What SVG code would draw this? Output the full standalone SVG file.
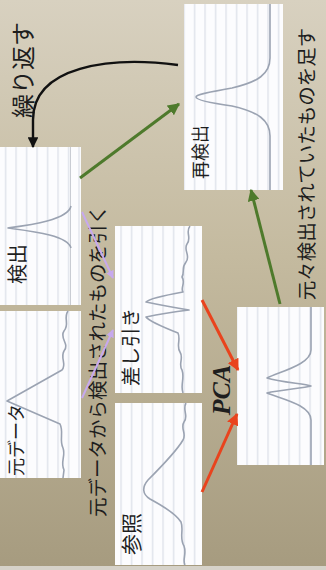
<svg xmlns="http://www.w3.org/2000/svg" width="326" height="570" viewBox="0 0 326 570">
<defs>
<linearGradient id="bg" x1="0" y1="0" x2="0" y2="1">
<stop offset="0" stop-color="#d8d1c0"/>
<stop offset="0.45" stop-color="#c4ba9f"/>
<stop offset="1" stop-color="#a69b7f"/>
</linearGradient>
<pattern id="stripes" width="10.5" height="10" patternUnits="userSpaceOnUse">
<rect width="10.5" height="10" fill="#fcfcfe"/>
<rect x="5" width="1.2" height="10" fill="#dadee7"/>
</pattern>
<marker id="mk-black" viewBox="0 0 10 10" refX="9" refY="5" markerWidth="4.5" markerHeight="4.5" orient="auto" markerUnits="strokeWidth"><path d="M0,0 L10,5 L0,10 z" fill="#111"/></marker>
<marker id="mk-green" viewBox="0 0 10 10" refX="9" refY="5" markerWidth="4" markerHeight="4" orient="auto" markerUnits="strokeWidth"><path d="M0,0 L10,5 L0,10 z" fill="#4e7a2c"/></marker>
<marker id="mk-red" viewBox="0 0 10 10" refX="9" refY="5" markerWidth="4" markerHeight="4" orient="auto" markerUnits="strokeWidth"><path d="M0,0 L10,5 L0,10 z" fill="#e9431d"/></marker>
<marker id="mk-purple" viewBox="0 0 10 10" refX="9" refY="5" markerWidth="4" markerHeight="4" orient="auto" markerUnits="strokeWidth"><path d="M0,0 L10,5 L0,10 z" fill="#c7a9ee"/></marker>
</defs>
<style>
.panel{fill:url(#stripes);}
.axis{stroke:#c9ccd3;stroke-width:1;fill:none;}
.curve{fill:none;stroke:#9ba3b2;stroke-width:1.6;stroke-linejoin:round;}
.jp{font-family:"Noto Sans CJK JP","Noto Sans CJK SC",sans-serif;fill:#1e1e1e;text-anchor:middle;dominant-baseline:central;}
.pca{font-family:"Liberation Serif",serif;font-style:italic;font-weight:bold;fill:#1e1e1e;text-anchor:middle;dominant-baseline:central;}
.c-black{fill:none;stroke:#111;stroke-width:2.4;}
.c-green{fill:none;stroke:#4e7a2c;stroke-width:3;}
.c-red{fill:none;stroke:#e9431d;stroke-width:3;}
.c-purple{fill:none;stroke:#c7a9ee;stroke-width:2;}
</style>
<rect width="326" height="570" fill="url(#bg)"/>
<rect y="566" width="326" height="4" fill="#d6d2c9"/>

<g id="node-kenshutsu">
<rect class="panel" x="0" y="147" width="81" height="158"/>
<line class="axis" x1="70.5" y1="147" x2="70.5" y2="305"/>
<path class="curve" d="M71,206 C68,220 30,225 8,228 C30,231 68,235 71,248" stroke="#8f8f8f"/>
<text class="jp" transform="translate(16,264) rotate(-90)" font-size="20">検出</text>
</g>

<g id="node-motodata">
<rect class="panel" x="0" y="311" width="81" height="167"/>
<path class="curve" d="M68,311 C63,318 70,324 64,331 C59,338 70,344 64,351 C60,358 67,364 62,370 L7,401 L60,424 C64,432 59,440 63,448 C66,456 60,462 64,470 L63,478"/>
<text class="jp" transform="translate(15,440) rotate(-90)" font-size="18">元データ</text>
</g>

<g id="node-sashihiki">
<rect class="panel" x="115" y="226" width="87" height="167"/>
<path class="curve" d="M190,226 C185,232 192,238 187,244 C183,250 191,256 186,262 C181,268 185,272 182,277 C186,283 180,288 183,292 Q150,298 146,302 Q165,306 189,310 Q165,313 146,317 Q150,322 178,333 C181,340 176,346 180,352 C184,358 178,364 182,370 C185,378 180,385 183,393"/>
<text class="jp" transform="translate(129,347) rotate(-90)" font-size="19.5">差し引き</text>
</g>

<g id="node-sansho">
<rect class="panel" x="115" y="403" width="87" height="162"/>
<path class="curve" d="M186,403 C182,410 189,416 184,422 C180,428 187,434 183,440 C176,452 160,468 148,480 C142,487 142,494 150,499 C163,506 176,514 181,522 C184,530 179,538 184,546 C187,554 182,560 185,565"/>
<text class="jp" transform="translate(130,534) rotate(-90)" font-size="21">参照</text>
</g>

<g id="node-pca">
<rect class="panel" x="237" y="307" width="87" height="158"/>
<path class="curve" d="M311,307 V350 C311,364 282,371 267,378 C280,382 305,384 311,386 C305,388 280,390 267,393 C282,399 311,405 311,420 V465"/>
</g>

<g id="node-saikenshutsu">
<rect class="panel" x="184" y="4" width="99" height="186"/>
<path class="curve" d="M270,4 V58 C270,74 258,82 232,88 C204,93 196,95 196,97 C196,99 204,102 232,106 C258,112 270,120 270,136 V190" stroke="#a9ab9f"/>
<text class="jp" transform="translate(199,152) rotate(-90)" font-size="18">再検出</text>
</g>

<g id="labels">
<text class="jp" transform="translate(21,70) rotate(-90)" font-size="24">繰り返す</text>
<text class="jp" transform="translate(96,361) rotate(-90)" font-size="19.5">元データから検出されたものを引く</text>
<text class="jp" transform="translate(305,164) rotate(-90)" font-size="19.5">元々検出されていたものを足す</text>
<text class="pca" transform="translate(221,390) rotate(-90)" font-size="26">PCA</text>
</g>

<g id="connectors">
<path class="c-black" d="M178,65 C110,56 33,66 33,120 L33,147" marker-end="url(#mk-black)"/>
<line class="c-green" x1="80" y1="178" x2="179" y2="104" marker-end="url(#mk-green)"/>
<line class="c-green" x1="280" y1="304" x2="251" y2="190" marker-end="url(#mk-green)"/>
<line class="c-red" x1="202" y1="300" x2="238" y2="370" marker-end="url(#mk-red)"/>
<line class="c-red" x1="202" y1="492" x2="237" y2="414" marker-end="url(#mk-red)"/>
<line class="c-purple" x1="82" y1="212" x2="113" y2="278" marker-end="url(#mk-purple)"/>
<line class="c-purple" x1="82" y1="398" x2="113" y2="330" marker-end="url(#mk-purple)"/>
</g>
</svg>
